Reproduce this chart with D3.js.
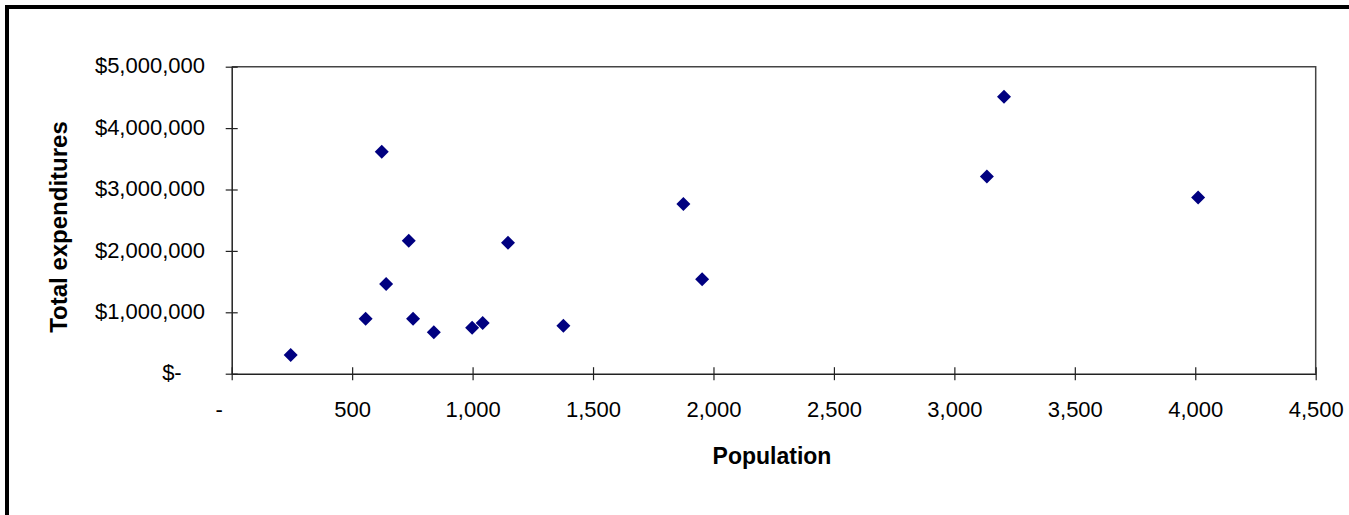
<!DOCTYPE html>
<html>
<head>
<meta charset="utf-8">
<script src="https://cdn.jsdelivr.net/npm/d3@7"></script>
<style>
    body { margin: 0; background: #fff; }
    svg { display: block; font-family: "Liberation Sans", Arial, sans-serif; }
</style>
</head>
<body>
<div class="svg-container"></div>
<script>
// Population of each town (x) and its total expenditures (y)
const POPULATION = [245, 556, 641, 753, 839, 998, 1042, 1377, 623, 735, 1147, 1875, 1953, 3135, 3206, 4012];
const EXPENDITURES = [305000, 896000, 1460000, 896000, 674000, 750000, 826000, 780000,
    3616000, 2167000, 2134000, 2764000, 1537000, 3210000, 4510000, 2870000];
const X_TICKS = [0, 500, 1000, 1500, 2000, 2500, 3000, 3500, 4000, 4500];
const Y_TICKS = [0, 1000000, 2000000, 3000000, 4000000, 5000000];

function chart() {
    const width = 1349;
    const height = 515;
    const plot = { left: 231.7, top: 66.7, right: 1315.7, bottom: 373.7 };

    const data = POPULATION.map((p, i) => ({ pop: p, exp: EXPENDITURES[i] }));

    const xScale = d3.scaleLinear().domain([0, 4500]).range([plot.left, plot.right]);
    const yScale = d3.scaleLinear().domain([0, 5000000]).range([plot.bottom, plot.top]);

    const svg = d3.select(".svg-container").append("svg")
        .attr("width", width)
        .attr("height", height);

    // thick frame on top and left edge
    svg.append("rect").attr("x", 5).attr("y", 5).attr("width", width).attr("height", 4).attr("fill", "#000");
    svg.append("rect").attr("x", 5).attr("y", 5).attr("width", 4).attr("height", height).attr("fill", "#000");

    // plot area outline (top + right)
    svg.append("path")
        .attr("d", `M${plot.left},${plot.top}H${plot.right}V${plot.bottom}`)
        .attr("fill", "none")
        .attr("stroke", "#444")
        .attr("stroke-width", 1.5);

    const money = (d) => d === 0 ? "$-" : "$" + d3.format(",")(d);
    const count = (d) => d === 0 ? "-" : d3.format(",")(d);

    // The y-axis
    const yAxis = svg.append("g")
        .attr("transform", "translate(" + plot.left + ",0)")
        .call(d3.axisLeft(yScale).tickValues(Y_TICKS).tickFormat(money).tickSizeOuter(0).tickSizeInner(0));
    yAxis.select(".domain").attr("stroke", "#222").attr("stroke-width", 1.5);
    yAxis.selectAll(".tick line").attr("x1", -6).attr("x2", 6).attr("stroke", "#222").attr("stroke-width", 1.2);
    yAxis.selectAll(".tick text")
        .attr("x", (d) => d === 0 ? -50 : -26.7)
        .attr("dy", "0.28em")
        .attr("font-size", 22)
        .attr("font-family", "Liberation Sans, Arial, sans-serif")
        .attr("fill", "#000");

    // The x-axis
    const xAxis = svg.append("g")
        .attr("transform", "translate(0," + plot.bottom + ")")
        .call(d3.axisBottom(xScale).tickValues(X_TICKS).tickFormat(count).tickSizeOuter(0).tickSizeInner(0));
    xAxis.select(".domain").attr("stroke", "#222").attr("stroke-width", 1.5);
    xAxis.selectAll(".tick line").attr("y1", -6.5).attr("y2", 6.5).attr("stroke", "#222").attr("stroke-width", 1.2);
    xAxis.selectAll(".tick text")
        .attr("y", 43.5)
        .attr("dy", 0)
        .attr("dx", (d) => d === 0 ? -13 : 0)
        .attr("font-size", 22)
        .attr("font-family", "Liberation Sans, Arial, sans-serif")
        .attr("fill", "#000");

    // axis titles
    svg.append("text")
        .attr("x", 772)
        .attr("y", 464)
        .attr("text-anchor", "middle")
        .attr("font-size", 23)
        .attr("font-weight", "bold")
        .text("Population");

    svg.append("text")
        .attr("transform", "translate(67,227) rotate(-90)")
        .attr("text-anchor", "middle")
        .attr("font-size", 24)
        .attr("font-weight", "bold")
        .text("Total expenditures");

    // diamond markers
    svg.append("g")
        .selectAll(".pt")
        .data(data)
        .enter()
        .append("path")
        .classed("pt", true)
        .attr("d", d3.symbol().type(d3.symbolSquare).size(98))
        .attr("transform", (d) => "translate(" + xScale(d.pop) + "," + yScale(d.exp) + ") rotate(45)")
        .attr("fill", "#000080");
}

chart();
</script>
</body>
</html>
